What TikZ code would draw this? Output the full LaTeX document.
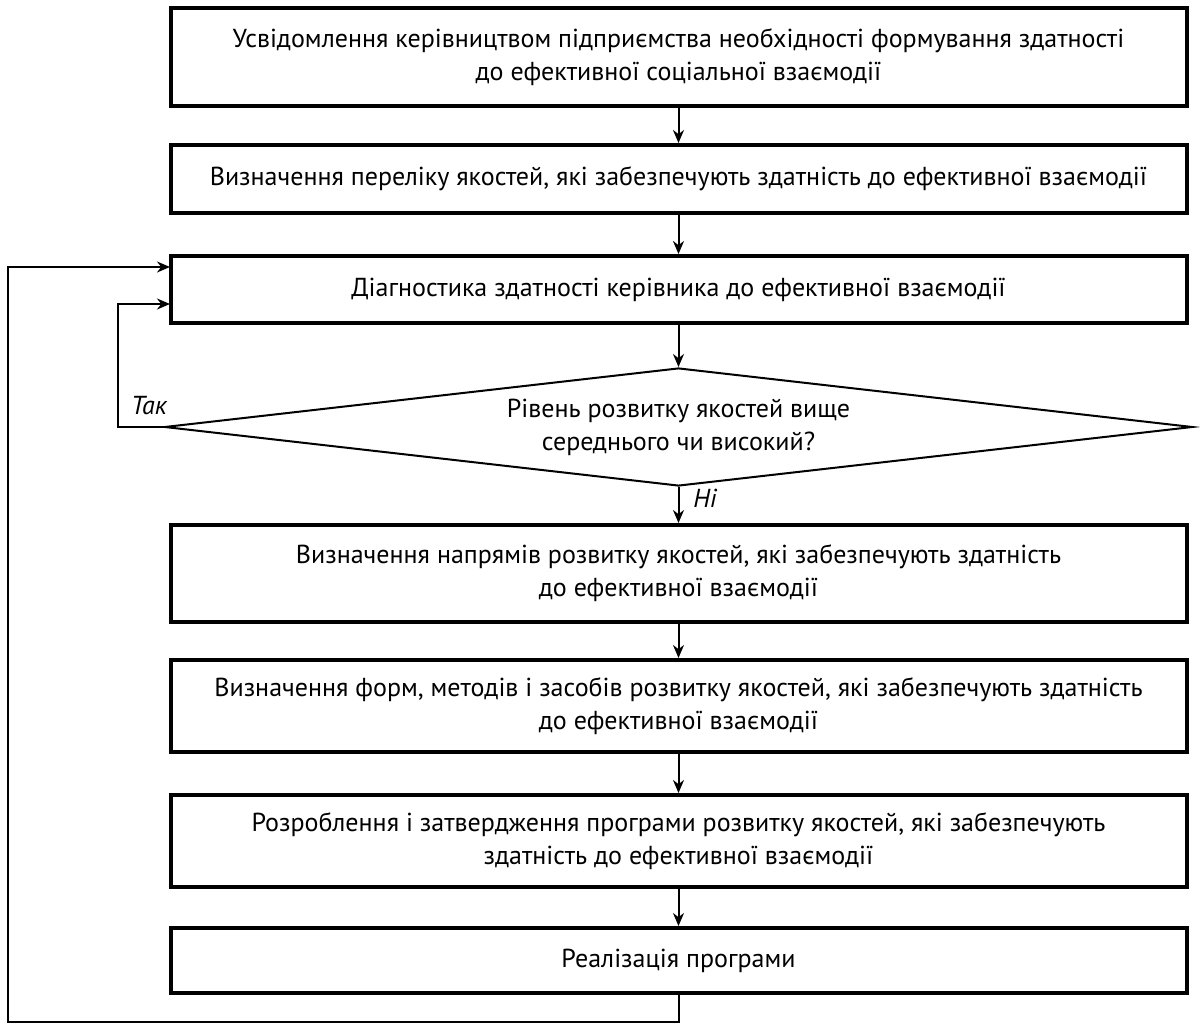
\documentclass[tikz,border=0pt]{standalone}
\usepackage{fontspec}
\setmainfont{PT Sans}
\usetikzlibrary{arrows.meta}
\usetikzlibrary{shapes.geometric}
\tikzset{%
    blk/.style={draw, line width=2pt, minimum width=508pt, inner sep=0pt, align=center, font=\fontsize{13}{16.5}\selectfont},%
    chkshape/.style={draw, diamond, line width=1pt, minimum width=514pt, minimum height=59pt, aspect=8.7, inner sep=0pt, align=center, font=\fontsize{13}{16.5}\selectfont},%
    arr/.style={line width=1pt, -{Stealth[length=6.5pt, width=5.5pt]}},%
    lbl/.style={inner sep=0pt, font=\fontsize{13}{15}\selectfont\itshape},%
}

\begin{document}
\begin{tikzpicture}[x=0.5pt, y=-0.5pt]%
    \useasboundingbox (0, 0) rectangle (1200, 1027);%
    % boxes
    \node[blk, minimum height=49pt] (aware) at (678.5, 57) {Усвідомлення керівництвом підприємства необхідності формування здатності\\до ефективної соціальної взаємодії};%
    \node[blk, minimum height=34pt] (list) at (678.5, 179) {Визначення переліку якостей, які забезпечують здатність до ефективної взаємодії};%
    \node[blk, minimum height=33.5pt] (diag) at (678.5, 289.5) {Діагностика здатності керівника до ефективної взаємодії};%
    \node[chkshape] (chk) at (678.5, 427) {Рівень розвитку якостей вище\\середнього чи високий?};%
    \node[blk, minimum height=48.5pt] (direct) at (678.5, 573.5) {Визначення напрямів розвитку якостей, які забезпечують здатність\\до ефективної взаємодії};%
    \node[blk, minimum height=46pt] (forms) at (678.5, 706) {Визначення форм, методів і засобів розвитку якостей, які забезпечують здатність\\до ефективної взаємодії};%
    \node[blk, minimum height=46pt] (prog) at (678.5, 841) {Розроблення і затвердження програми розвитку якостей, які забезпечують\\здатність до ефективної взаємодії};%
    \node[blk, minimum height=32.5pt] (impl) at (678.5, 960.5) {Реалізація програми};%
    % labels
    \node[lbl] (tak) at (149, 406) {Так};%
    \node[lbl] (ni) at (705, 498) {Ні};%
    % loop points
    \coordinate (yes) at (118, 427);%
    \coordinate (yesin) at (170, 304);%
    \coordinate (back) at (8, 1022);%
    \coordinate (backin) at (170, 267);%
    % arrows
    \draw[arr] (aware) to (list);%
    \draw[arr] (list) to (diag);%
    \draw[arr] (diag) to (chk);%
    \draw[arr] (chk) to (direct);%
    \draw[arr] (direct) to (forms);%
    \draw[arr] (forms) to (prog);%
    \draw[arr] (prog) to (impl);%
    \draw[arr] (chk.west) -- (yes) |- (yesin);%
    \draw[arr] (impl.south) |- (back) |- (backin);%
\end{tikzpicture}
\end{document}
